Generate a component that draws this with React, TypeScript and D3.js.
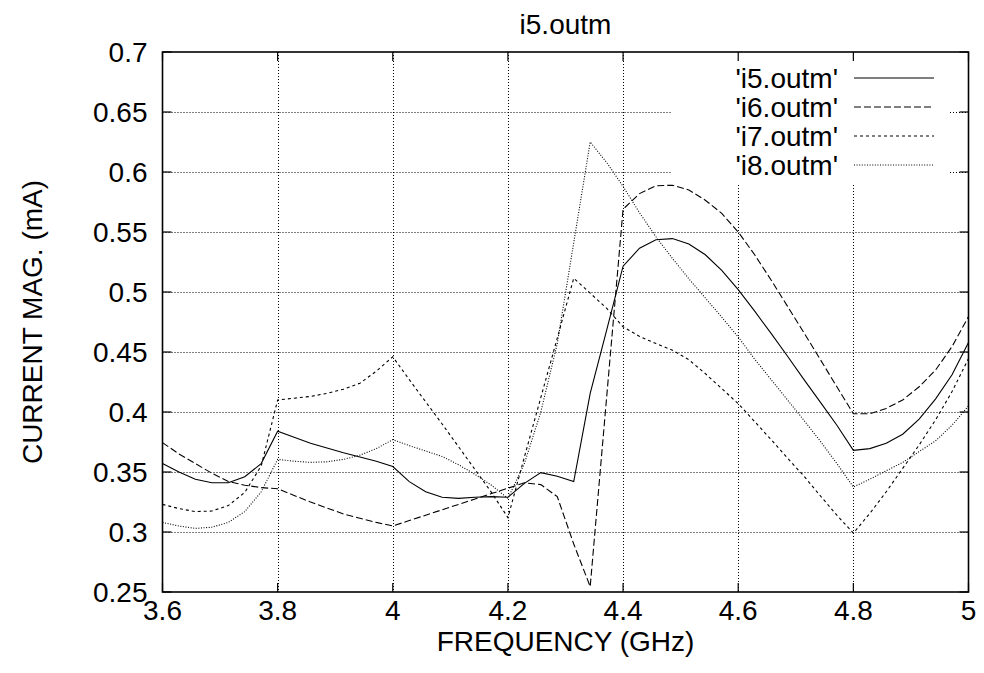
import React, { useEffect, useRef } from "react";
import * as d3 from "d3";

// frequency sweep (GHz), shared by all four traces
const FREQ = [
  3.6, 3.6286, 3.6571, 3.6857, 3.7143, 3.7429, 3.7714, 3.8, 3.8286, 3.8571,
  3.8857, 3.9143, 3.9429, 3.9714, 4.0, 4.0286, 4.0571, 4.0857, 4.1143, 4.1429,
  4.1714, 4.2, 4.2286, 4.2571, 4.2857, 4.3143, 4.3429, 4.3714, 4.4, 4.4286,
  4.4571, 4.4857, 4.5143, 4.5429, 4.5714, 4.6, 4.6286, 4.6571, 4.6857, 4.7143,
  4.7429, 4.7714, 4.8, 4.8286, 4.8571, 4.8857, 4.9143, 4.9429, 4.9714, 5.0,
];

const I5 = [
  0.357, 0.35, 0.344, 0.341, 0.341, 0.346, 0.357, 0.384, 0.379, 0.374,
  0.37, 0.366, 0.3625, 0.359, 0.3545, 0.342, 0.3335, 0.329, 0.328, 0.329,
  0.3295, 0.329, 0.3405, 0.3495, 0.3465, 0.342, 0.4155, 0.468, 0.5215, 0.5365,
  0.5435, 0.5445, 0.54, 0.531, 0.518, 0.502, 0.484, 0.4655, 0.4465, 0.427,
  0.408, 0.389, 0.368, 0.3695, 0.374, 0.3815, 0.394, 0.411, 0.431, 0.458,
];

const I6 = [
  0.3745, 0.365, 0.357, 0.349, 0.342, 0.339, 0.337, 0.336, 0.3305, 0.325,
  0.32, 0.315, 0.3115, 0.308, 0.305, 0.3095, 0.314, 0.3185, 0.323, 0.3275,
  0.332, 0.3365, 0.341, 0.3395, 0.3295, 0.29, 0.2545, 0.412, 0.569, 0.582,
  0.5885, 0.589, 0.585, 0.5765, 0.5655, 0.55, 0.531, 0.51, 0.488, 0.466,
  0.4435, 0.421, 0.3985, 0.3985, 0.403, 0.41, 0.421, 0.435, 0.4545, 0.4795,
];

const I7 = [
  0.323, 0.3195, 0.317, 0.3175, 0.322, 0.333, 0.355, 0.41, 0.4115, 0.413,
  0.4155, 0.419, 0.424, 0.434, 0.446, 0.427, 0.4085, 0.39, 0.371, 0.352,
  0.333, 0.312, 0.3625, 0.412, 0.4615, 0.5115, 0.499, 0.4865, 0.471, 0.463,
  0.457, 0.4515, 0.4435, 0.432, 0.4195, 0.407, 0.392, 0.377, 0.3615, 0.3465,
  0.33, 0.314, 0.299, 0.3155, 0.3335, 0.353, 0.3725, 0.3935, 0.417, 0.4445,
];

const I8 = [
  0.308, 0.305, 0.303, 0.304, 0.308, 0.317, 0.3335, 0.3605, 0.359, 0.358,
  0.3585, 0.3605, 0.364, 0.3695, 0.377, 0.372, 0.3675, 0.363, 0.356, 0.348,
  0.339, 0.328, 0.357, 0.4, 0.457, 0.541, 0.625, 0.608, 0.588, 0.566,
  0.546, 0.528, 0.511, 0.495, 0.479, 0.4625, 0.444, 0.427, 0.41, 0.393,
  0.3755, 0.357, 0.3375, 0.344, 0.351, 0.358, 0.367, 0.376, 0.389, 0.405,
];

const SERIES_NAMES = ["'i5.outm'", "'i6.outm'", "'i7.outm'", "'i8.outm'"];
const SERIES_VALUES = [I5, I6, I7, I8];
const SERIES_DASH = ["none", "7,3", "3,3", "1,1.6"];

const X_TICKS = [3.6, 3.8, 4.0, 4.2, 4.4, 4.6, 4.8, 5.0];
const Y_TICKS = [0.25, 0.3, 0.35, 0.4, 0.45, 0.5, 0.55, 0.6, 0.65, 0.7];

const FONT = "'Liberation Sans', Arial, Helvetica, sans-serif";

export default function App() {
  const svgRef = useRef<SVGSVGElement | null>(null);

  useEffect(() => {
    if (!svgRef.current) return;
    const svg = d3.select(svgRef.current);
    svg.selectAll("*").remove();

    const W = 984;
    const H = 673;
    const left = 162.5;
    const right = 968.5;
    const top = 52;
    const bottom = 592;

    const x = d3.scaleLinear().domain([3.6, 5.0]).range([left, right]);
    const y = d3.scaleLinear().domain([0.25, 0.7]).range([bottom, top]);

    svg.attr("width", W).attr("height", H);
    svg.append("rect").attr("width", W).attr("height", H).attr("fill", "#fff");

    // key area, grid is kept out of it
    const key = { x0: 672, x1: 950, y1: 185 };

    const grid = svg.append("g")
      .attr("stroke", "#000")
      .attr("stroke-width", 1)
      .attr("stroke-dasharray", "1,2")
      .attr("fill", "none");

    Y_TICKS.slice(1, -1).forEach((t) => {
      const yy = Math.round(y(t)) + 0.5;
      if (yy < key.y1) {
        grid.append("line").attr("x1", left).attr("x2", key.x0).attr("y1", yy).attr("y2", yy);
        grid.append("line").attr("x1", key.x1).attr("x2", right).attr("y1", yy).attr("y2", yy);
      } else {
        grid.append("line").attr("x1", left).attr("x2", right).attr("y1", yy).attr("y2", yy);
      }
    });
    X_TICKS.slice(1, -1).forEach((t) => {
      const xx = Math.round(x(t)) + 0.5;
      const y0 = xx > key.x0 && xx < key.x1 ? key.y1 : top;
      grid.append("line").attr("x1", xx).attr("x2", xx).attr("y1", y0).attr("y2", bottom);
    });

    // ticks on all four sides, pointing in
    const tk = 9;
    const ticks = svg.append("g").attr("stroke", "#000").attr("stroke-width", 1.2);
    X_TICKS.forEach((t) => {
      const xx = x(t);
      ticks.append("line").attr("x1", xx).attr("x2", xx).attr("y1", bottom).attr("y2", bottom - tk);
      ticks.append("line").attr("x1", xx).attr("x2", xx).attr("y1", top).attr("y2", top + tk);
    });
    Y_TICKS.forEach((t) => {
      const yy = y(t);
      ticks.append("line").attr("x1", left).attr("x2", left + tk).attr("y1", yy).attr("y2", yy);
      ticks.append("line").attr("x1", right).attr("x2", right - tk).attr("y1", yy).attr("y2", yy);
    });

    // traces
    const line = d3.line<number>()
      .x((_, i) => x(FREQ[i]))
      .y((d) => y(d));

    SERIES_VALUES.forEach((vals, i) => {
      svg.append("path")
        .datum(vals)
        .attr("fill", "none")
        .attr("stroke", "#000")
        .attr("stroke-width", 1.1)
        .attr("stroke-dasharray", SERIES_DASH[i])
        .attr("d", line);
    });

    // border
    svg.append("rect")
      .attr("x", left).attr("y", top)
      .attr("width", right - left).attr("height", bottom - top)
      .attr("fill", "none").attr("stroke", "#000").attr("stroke-width", 1.6);

    const txt = svg.append("g")
      .attr("font-family", FONT)
      .attr("font-size", 28)
      .attr("fill", "#000");

    Y_TICKS.forEach((t) => {
      txt.append("text")
        .attr("x", left - 15)
        .attr("y", y(t) + 10)
        .attr("text-anchor", "end")
        .text(d3.format("")(+t.toFixed(2)));
    });
    X_TICKS.forEach((t) => {
      txt.append("text")
        .attr("x", x(t))
        .attr("y", 620)
        .attr("text-anchor", "middle")
        .text(d3.format("")(+t.toFixed(1)));
    });

    txt.append("text")
      .attr("x", (left + right) / 2)
      .attr("y", 651)
      .attr("text-anchor", "middle")
      .text("FREQUENCY (GHz)");

    txt.append("text")
      .attr("transform", `translate(42, ${(top + bottom) / 2}) rotate(-90)`)
      .attr("text-anchor", "middle")
      .text("CURRENT MAG. (mA)");

    txt.append("text")
      .attr("x", (left + right) / 2)
      .attr("y", 34)
      .attr("text-anchor", "middle")
      .text("i5.outm");

    // key
    SERIES_NAMES.forEach((name, i) => {
      const ry = 78 + i * 29;
      txt.append("text")
        .attr("x", 838)
        .attr("y", ry + 10)
        .attr("text-anchor", "end")
        .text(name);
      svg.append("line")
        .attr("x1", 854).attr("x2", 934)
        .attr("y1", ry).attr("y2", ry)
        .attr("stroke", "#000")
        .attr("stroke-width", 1.1)
        .attr("stroke-dasharray", SERIES_DASH[i]);
    });
  }, []);

  return (
    <div style={{ position: "absolute", left: 0, top: 0 }}>
      <svg ref={svgRef} style={{ display: "block" }}></svg>
    </div>
  );
}
